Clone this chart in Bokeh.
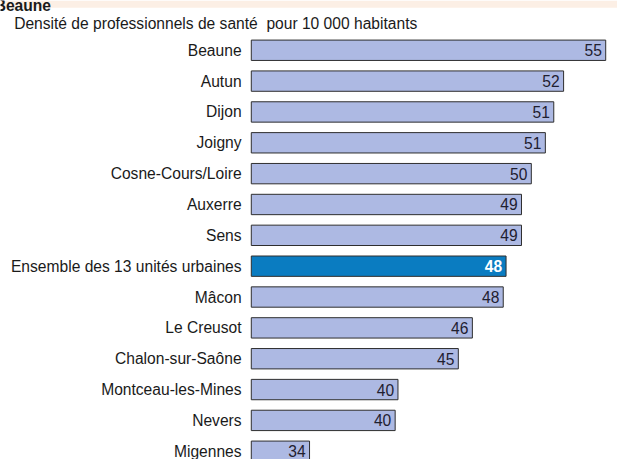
from bokeh.plotting import figure
from bokeh.models import ColumnDataSource, Range1d, Label, BoxAnnotation
from bokeh.embed import file_html
from bokeh.resources import INLINE
from bokeh.core.properties import value

# ---- data ----
categories = ["Beaune", "Autun", "Dijon", "Joigny", "Cosne-Cours/Loire", "Auxerre", "Sens",
              "Ensemble des 13 unités urbaines", "Mâcon", "Le Creusot", "Chalon-sur-Saône",
              "Montceau-les-Mines", "Nevers", "Migennes"]
densities = [55.1, 52.1, 51.4, 50.8, 49.8, 49.1, 49.1, 48.0, 47.8, 45.6, 44.6, 40.3, 40.1, 34.0]
highlight = "Ensemble des 13 unités urbaines"
title_text = "Densité de professionnels de santé\u00a0 pour 10 000 habitants"
header_text = "Beaune"

# ---- styling ----
FONT = "Liberation Sans"
BAR_COLOR = "#adb9e3"
HI_COLOR = "#0a7cc1"
BASE = 29.85  # value at which the bars start

W, H = 617, 459
SX = W / 633
SY = H / 475
FS = f"{16 * SX:.1f}px"

pos = list(range(len(categories)))
fill = [HI_COLOR if c == highlight else BAR_COLOR for c in categories]
labels = [f"{round(v):d}" for v in densities]

src_all = ColumnDataSource(dict(pos=pos, value=densities, fill=fill, label=labels, cat=categories))
norm_idx = [i for i, c in enumerate(categories) if c != highlight]
hi_idx = [i for i, c in enumerate(categories) if c == highlight]
src_norm = ColumnDataSource(dict(pos=[pos[i] for i in norm_idx],
                                 value=[densities[i] for i in norm_idx],
                                 label=[labels[i] for i in norm_idx]))
src_hi = ColumnDataSource(dict(pos=[pos[i] for i in hi_idx],
                               value=[densities[i] for i in hi_idx],
                               label=[labels[i] for i in hi_idx]))

px_per_unit_x = 14.4 * SX
px_per_row = 31.92 * SY
base_px = 257.3 * SX
x_start = BASE - base_px / px_per_unit_x
x_end = x_start + W / px_per_unit_x
y_top = -(51.5 * SY) / px_per_row
y_bottom = y_top + H / px_per_row

p = figure(width=W, height=H, output_backend="svg", toolbar_location=None,
           x_range=Range1d(x_start, x_end), y_range=Range1d(y_bottom, y_top),
           x_axis_type=None, y_axis_type=None,
           min_border_left=0, min_border_right=0, min_border_top=0, min_border_bottom=0)
p.outline_line_color = None
p.grid.visible = False
p.background_fill_color = "white"
p.border_fill_color = "white"

# header band (cut-off page header at the very top)
p.add_layout(BoxAnnotation(bottom=H - 7.5 * SY, bottom_units="screen",
                           fill_color="#fcefe5", fill_alpha=1.0, line_color=None, level="underlay"))
p.add_layout(Label(x=-6 * SX, y=H - 5 * SY, x_units="screen", y_units="screen", text=header_text,
                   text_font=FONT, text_font_size=FS, text_font_style="bold",
                   text_color="#1a1a1a", text_baseline="alphabetic"))

# category labels
p.text(x=BASE, y="pos", text="cat", source=src_all, x_offset=-10 * SX,
       text_align="right", text_baseline="middle", text_font=value(FONT),
       text_font_size=FS, text_color="#1a1a1a")

# bars
p.hbar(y="pos", left=BASE, right="value", height=0.66, fill_color="fill",
       line_color="#2e2e2e", line_width=1, source=src_all)

# value labels
p.text(x="value", y="pos", text="label", source=src_norm, x_offset=-4 * SX,
       text_align="right", text_baseline="middle", text_font=value(FONT),
       text_font_size=FS, text_color="#1f2030")
p.text(x="value", y="pos", text="label", source=src_hi, x_offset=-4 * SX,
       text_align="right", text_baseline="middle", text_font=value(FONT),
       text_font_size=FS, text_font_style="bold", text_color="white")

# chart title
p.add_layout(Label(x=14 * SX, y=H - 24 * SY, x_units="screen", y_units="screen", text=title_text,
                   text_font=FONT, text_font_size=FS, text_color="#1a1a1a",
                   text_baseline="alphabetic", text_align="left"))

open("out.html", "w").write(file_html(p, INLINE))
